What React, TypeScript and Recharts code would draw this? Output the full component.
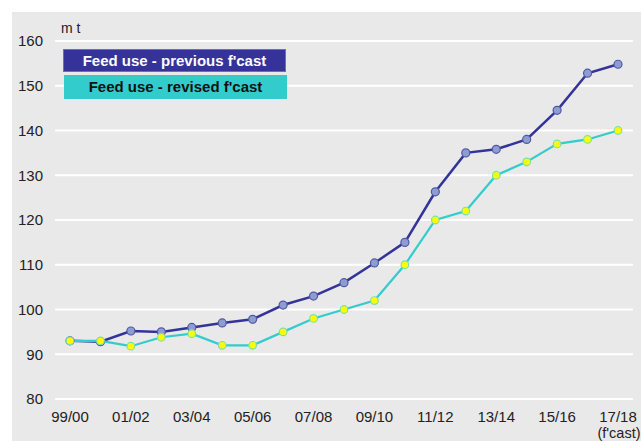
import React from 'react';
import { LineChart, Line, XAxis, YAxis, CartesianGrid } from 'recharts';

const seasons = [
  '99/00', '00/01', '01/02', '02/03', '03/04', '04/05', '05/06', '06/07', '07/08', '08/09',
  '09/10', '10/11', '11/12', '12/13', '13/14', '14/15', '15/16', '16/17', '17/18',
];
const previousForecast = [
  93, 92.8, 95.2, 95, 96, 97, 97.8, 101, 103, 106, 110.4, 115, 126.3, 135, 135.8, 138, 144.5, 152.8, 154.8,
];
const revisedForecast = [
  93, 93, 91.8, 93.8, 94.6, 92, 92, 95, 98, 100, 102, 110, 120, 122, 130, 133, 137, 138, 140,
];
const yTicks = [80, 90, 100, 110, 120, 130, 140, 150, 160];
const seriesNames = ['Feed use - previous f\'cast', 'Feed use - revised f\'cast'];
const unitLabel = 'm t';
const lastTickNote = '(f\'cast)';

const data = seasons.map((s, i) => ({ season: s, previous: previousForecast[i], revised: revisedForecast[i] }));

const FONT = 'Arial, "Liberation Sans", Helvetica, sans-serif';

const XTick = (props: any) => {
  const { x, y, payload } = props;
  const isLast = payload.value === seasons[seasons.length - 1];
  return (
    <g>
      <text x={x} y={y + 15} textAnchor="middle" fill="#222" fontSize={15} fontFamily={FONT}>
        {payload.value}
      </text>
      {isLast ? (
        <text x={x + 1} y={y + 31} textAnchor="middle" fill="#222" fontSize={14.5} fontFamily={FONT}>
          {lastTickNote}
        </text>
      ) : null}
    </g>
  );
};

export default function App() {
  return (
    <div style={{ position: 'absolute', left: 0, top: 0, width: 641, height: 441, background: '#fff' }}>
      <div style={{ position: 'absolute', left: 12, top: 12, width: 629, height: 429, background: '#e9e9e9' }} />
      <div style={{ position: 'absolute', left: 0, top: 0 }}>
        <LineChart width={641} height={441} data={data} margin={{ top: 41, right: 8, bottom: 0, left: 0 }}>
          <CartesianGrid vertical={false} stroke="#ffffff" strokeWidth={2} />
          <XAxis
            dataKey="season"
            height={42}
            axisLine={false}
            tickLine={false}
            interval={1}
            padding={{ left: 15, right: 15 }}
            tick={<XTick />}
          />
          <YAxis
            domain={[80, 160]}
            ticks={yTicks}
            width={55}
            axisLine={false}
            tickLine={false}
            tickMargin={6}
            tick={{ fill: '#222', fontSize: 15, fontFamily: FONT }}
          />
          <Line
            type="linear"
            dataKey="previous"
            name={seriesNames[0]}
            stroke="#333399"
            strokeWidth={2.5}
            dot={{ r: 4, fill: '#8c9dd0', stroke: '#5556a8', strokeWidth: 1.2 }}
            isAnimationActive={false}
          />
          <Line
            type="linear"
            dataKey="revised"
            name={seriesNames[1]}
            stroke="#33cccc"
            strokeWidth={2.2}
            dot={{ r: 3.8, fill: '#ffff00', stroke: '#7fe0a0', strokeWidth: 1.2 }}
            isAnimationActive={false}
          />
        </LineChart>
      </div>
      <div style={{ position: 'absolute', left: 61, top: 20, fontFamily: FONT, fontSize: 14, color: '#222' }}>{unitLabel}</div>
      <div style={{ position: 'absolute', left: 63, top: 49, fontFamily: FONT, fontWeight: 'bold', fontSize: 15 }}>
        <div style={{ width: 223, height: 23, background: '#35339a', color: '#fff', textAlign: 'center', lineHeight: '21px', border: '1px solid #6c6cc0', boxSizing: 'border-box' }}>
          {seriesNames[0]}
        </div>
        <div style={{ width: 223, height: 24, marginTop: 3, marginLeft: 1, background: '#33cccc', color: '#111', textAlign: 'center', lineHeight: '24px' }}>
          {seriesNames[1]}
        </div>
      </div>
    </div>
  );
}
